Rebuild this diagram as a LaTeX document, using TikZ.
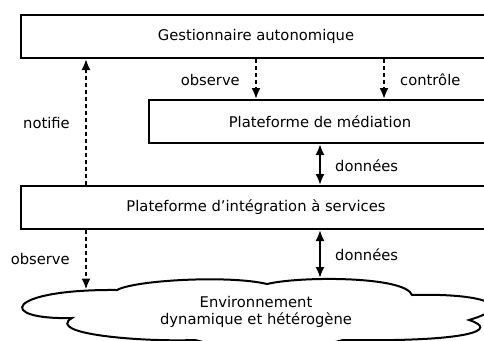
\documentclass[tikz,border=0pt]{standalone}
\usepackage{fontspec}
\setmainfont{DejaVu Sans}
\usetikzlibrary{arrows.meta}
\begin{document}
\begin{tikzpicture}[x=1pt,y=-1pt,
  every node/.style={font=\fontsize{14.75}{17}\selectfont, inner sep=0pt},
  box/.style={draw, line width=2pt, minimum height=43pt, inner sep=0pt},
  dasharrow/.style={line width=2pt, dash pattern=on 4pt off 3pt, -{Latex[length=11pt,width=9pt]}},
  solidarrow/.style={line width=2pt, {Latex[length=11pt,width=9pt]}-{Latex[length=11pt,width=9pt]}},
  cloudline/.style={line width=2pt, line join=miter}
]
\useasboundingbox (0,0) rectangle (484,340);
\clip (0,0) rectangle (484,340);

% boxes
\node[box, minimum width=470pt] (top) at (256,36.5) {Gestionnaire autonomique};
\node[box, minimum width=342pt] (med) at (320,121.5) {Plateforme de médiation};
\node[box, minimum width=470pt] (integ) at (256,207.5) {Plateforme d’intégration à services};

% cloud
\draw[cloudline] (117,290) .. controls (135,280) and (230,275) .. (267,284)
  .. controls (300,276) and (405,276) .. (412,295)
  .. controls (480,293) and (520,305) .. (469,320)
  .. controls (500,330) and (470,342) .. (343,340)
  .. controls (300,352) and (240,352) .. (195,340)
  .. controls (140,342) and (45,334) .. (72,318)
  .. controls (-5,320) and (5,289) .. (117,290) -- cycle;
\node[align=center] (env) at (256,312) {Environnement\\dynamique et hétérogène};

% x positions and free ends
\coordinate (xn) at (86,0);
\coordinate (xo) at (256,0);
\coordinate (xc) at (384,0);
\coordinate (xd) at (320,0);
\coordinate (c1) at (86,289.5);
\coordinate (c2) at (320,278);

% connectors
\draw[dasharrow] (integ.north -| xn) -- (top.south -| xn);
\draw[dasharrow] (top.south -| xo) -- (med.north -| xo);
\draw[dasharrow] (top.south -| xc) -- (med.north -| xc);
\draw[solidarrow] (med.south -| xd) -- (integ.north -| xd);
\draw[dasharrow] (integ.south -| xn) -- (c1);
\draw[solidarrow] (integ.south -| xd) -- (c2);

% labels
\node[anchor=base east] (lo1) at (240,85) {observe};
\node[anchor=base west] (lc) at (400,85) {contrôle};
\node[anchor=base east] (ln) at (70,128) {notifie};
\node[anchor=base west] (ld1) at (335,171) {données};
\node[anchor=base east] (lo2) at (70,264) {observe};
\node[anchor=base west] (ld2) at (335,260) {données};
\end{tikzpicture}
\end{document}
